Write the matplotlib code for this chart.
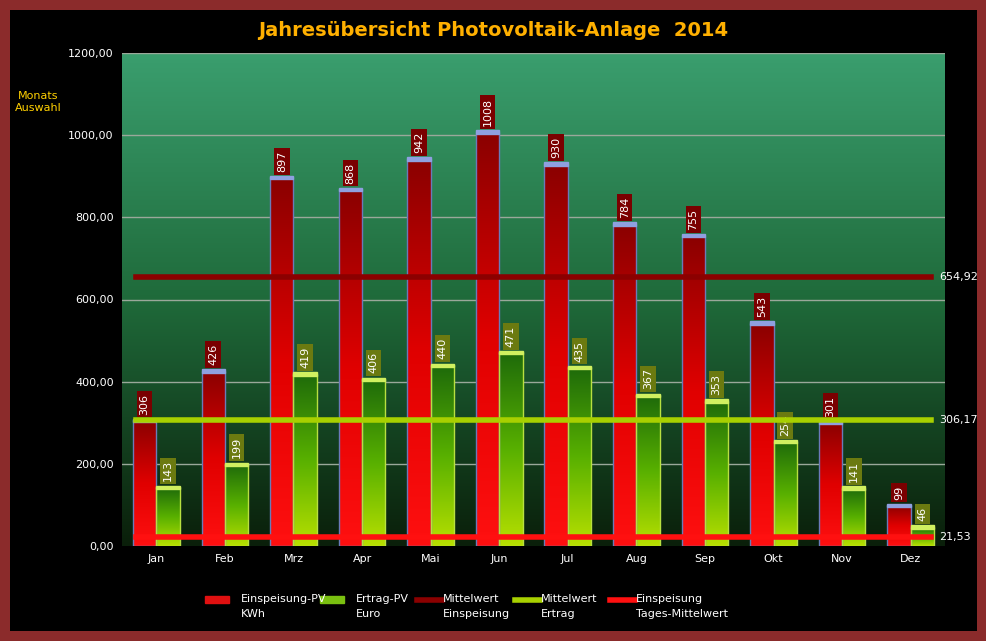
import numpy as np
import matplotlib
matplotlib.use("Agg")
import matplotlib.pyplot as plt
from matplotlib.colors import LinearSegmentedColormap
from matplotlib.patches import Rectangle

months = ["Jan","Feb","Mrz","Apr","Mai","Jun","Jul","Aug","Sep","Okt","Nov","Dez"]
einspeisung = [306,426,897,868,942,1008,930,784,755,543,301,99]
ertrag = [143,199,419,406,440,471,435,367,353,254,141,46]
mittel_einsp = 654.92
mittel_ertrag = 306.17
tages_mittel = 21.53
yticks = [0,200,400,600,800,1000,1200]

W, H = 987, 641
fig = plt.figure(figsize=(W/100, H/100), dpi=100, facecolor="#8b2b2b")
bg = fig.add_axes([10/W, 10/H, 1-20/W, 1-20/H]); bg.set_facecolor("black")
bg.set_xticks([]); bg.set_yticks([])
for s in bg.spines.values(): s.set_visible(False)

ax = fig.add_axes([122/W, 1-546/H, (945-122)/W, (546-53)/H])
ax.set_xlim(-0.5, 11.5); ax.set_ylim(0, 1200)
bgcmap = LinearSegmentedColormap.from_list("bg", ["#0a1f0a", "#1f6a3a", "#3a9e6e"])
ax.imshow(np.linspace(0,1,256).reshape(-1,1), aspect="auto", cmap=bgcmap,
          extent=[-0.5,11.5,0,1200], origin="lower", zorder=0)
for y in yticks[1:]:
    ax.axhline(y, color="#9aa89a", lw=1, zorder=1)
ax.set_yticks(yticks)
ax.set_yticklabels([f"{v:.2f}".replace(".", ",") for v in yticks], color="white", fontsize=8)
ax.set_xticks(range(12)); ax.set_xticklabels(months, color="white", fontsize=8)
ax.tick_params(length=0, pad=6)
for s in ax.spines.values(): s.set_visible(False)
ax.set_facecolor("black")

redc = LinearSegmentedColormap.from_list("r", ["#ff1010", "#e00000", "#8a0000"])
grnc = LinearSegmentedColormap.from_list("g", ["#b8e000", "#58b000", "#1e6a0a"])
grad = np.linspace(0,1,256).reshape(-1,1)
w = 0.34
for i,(r,g) in enumerate(zip(einspeisung, ertrag)):
    for x0, v, cm, edge, box in [(i-w, r, redc, "#6a7ab8", "#7a0000"), (i, g, grnc, "#b8e040", "#6b7a10")]:
        ax.imshow(grad, aspect="auto", cmap=cm, extent=[x0, x0+w, 0, v], origin="lower", zorder=2)
        ax.add_patch(Rectangle((x0, 0), w, v, fill=False, ec=edge, lw=1, zorder=3))
        ax.add_patch(Rectangle((x0, v-4), w, 8, color="#8fa0e0" if cm is redc else "#d0f060", zorder=3))
        ax.text(x0+w/2, v+14, str(v), rotation=90, ha="center", va="bottom", color="white", fontsize=8,
                bbox=dict(boxstyle="square,pad=0.25", fc=box, ec="none"), zorder=4)
ax.plot([-0.3, 11.3], [mittel_einsp]*2, color="#8b0000", lw=4, zorder=5)
ax.plot([-0.3, 11.3], [mittel_ertrag]*2, color="#a8d000", lw=4, zorder=5)
ax.plot([-0.3, 11.3], [tages_mittel]*2, color="#ff1010", lw=4, zorder=5)
for v in [mittel_einsp, mittel_ertrag, tages_mittel]:
    ax.text(11.42, v, f"{v:.2f}".replace(".", ","), color="white", fontsize=8, va="center", zorder=6, clip_on=False)

fig.text(0.5, 1-31/H, "Jahresübersicht Photovoltaik-Anlage  2014", ha="center", va="center",
         color="#ffb000", fontsize=14, fontweight="bold")
fig.text(38/W, 1-102/H, "Monats\nAuswahl", ha="center", va="center", color="#ffd000", fontsize=8)

legend = [("Einspeisung-PV\nKWh", "#e01010", True), ("Ertrag-PV\nEuro", "#7ac010", True),
          ("Mittelwert\nEinspeisung", "#8b0000", False), ("Mittelwert\nErtrag", "#a8d000", False),
          ("Einspeisung\nTages-Mittelwert", "#ff1010", False)]
xs = [205, 320, 407, 505, 600]
for (lab, c, box), x in zip(legend, xs):
    yy = 1-600/H
    if box:
        fig.patches.append(Rectangle(((x)/W, yy-3/H), 24/W, 7/H, transform=fig.transFigure, color=c))
    else:
        fig.lines.append(plt.Line2D([(x+10)/W, (x+35)/W], [yy, yy], transform=fig.transFigure, color=c, lw=4))
    fig.text((x+36)/W, yy+6/H, lab, color="white", fontsize=8, va="top", linespacing=1.6)

fig.savefig("out.png", dpi=100, facecolor=fig.get_facecolor())
